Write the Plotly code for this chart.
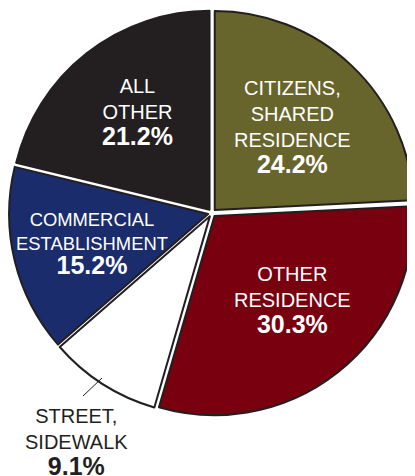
import plotly.graph_objects as go

# the page body adds an 8px margin, so the figure is a bit smaller than the window
OFF = 8
W, H = 415 - OFF, 476 - OFF

# data, clockwise from 12 o'clock
labels = ["CITIZENS,<br>SHARED<br>RESIDENCE", "OTHER<br>RESIDENCE", "STREET,<br>SIDEWALK",
          "COMMERCIAL<br>ESTABLISHMENT", "ALL<br>OTHER"]
values = [24.2, 30.3, 9.1, 15.2, 21.2]
colors = ["#67642c", "#78000f", "#ffffff", "#1b2c6c", "#231f20"]

# label placement (window pixel centres of each text block) and styling
label_pos = [(292, 127), (292.5, 300), (76.5, 442), (92, 244), (137.5, 113)]
label_size = [20, 20, 20, 18.4, 20]
label_color = ["white", "white", "#231f20", "white", "white"]


def px(x):
    return (x - OFF) / W


def py(y):
    return 1 - (y - OFF) / H


fig = go.Figure(go.Pie(
    values=values,
    labels=[l.replace("<br>", " ") for l in labels],
    sort=False,
    direction="clockwise",
    rotation=0,
    pull=[0.02] * len(values),
    marker=dict(colors=colors, line=dict(color="#231f20", width=2)),
    textinfo="none",
    hoverinfo="label+percent",
    showlegend=False,
    domain=dict(x=[px(9), 1], y=[py(416), py(10)]),
))

annotations = []
for lab, v, (x, y), fs, c in zip(labels, values, label_pos, label_size, label_color):
    annotations.append(dict(
        x=px(x), y=py(y), xref="paper", yref="paper",
        xanchor="center", yanchor="middle", showarrow=False,
        text=f"{lab}<br><span style='font-size:25px'><b>{v:.1f}%</b></span>",
        font=dict(family="Liberation Sans, Arial, sans-serif", size=fs, color=c),
        align="center",
    ))

fig.update_layout(
    width=W, height=H,
    margin=dict(l=0, r=0, t=0, b=0),
    paper_bgcolor="white",
    plot_bgcolor="white",
    annotations=annotations,
    shapes=[dict(type="line", xref="paper", yref="paper",
                 x0=px(83), y0=py(396), x1=px(102), y1=py(378),
                 line=dict(color="#231f20", width=1))],
)

fig.write_html("out.html")
